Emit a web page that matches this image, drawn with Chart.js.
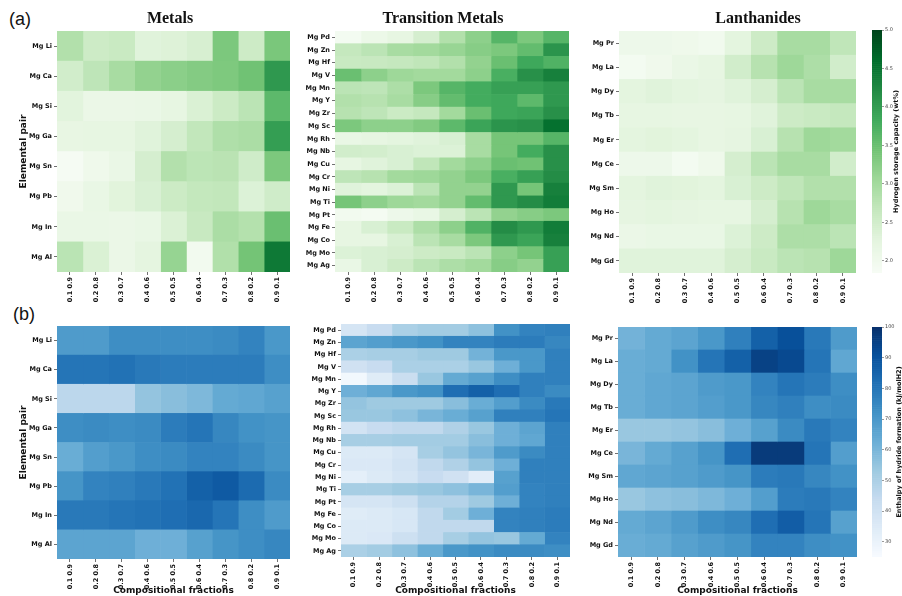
<!DOCTYPE html>
<html><head><meta charset="utf-8">
<script src="https://cdn.jsdelivr.net/npm/chart.js@4.4.0/dist/chart.umd.min.js"></script>
<style>
html,body{margin:0;padding:0;background:#fff;}
#wrap{position:relative;width:902px;height:596px;overflow:hidden;background:#fff;}
canvas{position:absolute;}
.lab{position:absolute;font-family:'Liberation Sans';font-size:18px;color:#111;line-height:1;}
</style></head><body>
<div id="wrap">
<div class="lab" style="left:9px;top:10px">(a)</div>
<div class="lab" style="left:13px;top:305px">(b)</div>
</div>
<script>
const fractions = ['0.1 0.9','0.2 0.8','0.3 0.7','0.4 0.6','0.5 0.5','0.6 0.4','0.7 0.3','0.8 0.2','0.9 0.1'];
const metalPairs = ['Mg Li','Mg Ca','Mg Si','Mg Ga','Mg Sn','Mg Pb','Mg In','Mg Al'];
const tmPairs = ['Mg Pd','Mg Zn','Mg Hf','Mg V','Mg Mn','Mg Y','Mg Zr','Mg Sc','Mg Rh','Mg Nb','Mg Cu','Mg Cr','Mg Ni','Mg Ti','Mg Pt','Mg Fe','Mg Co','Mg Mo','Mg Ag'];
const lanPairs = ['Mg Pr','Mg La','Mg Dy','Mg Tb','Mg Er','Mg Ce','Mg Sm','Mg Ho','Mg Nd','Mg Gd'];

// (a) Hydrogen storage capacity (wt%)
const h2Metals = [
[2.85,2.55,2.6,2.3,2.33,2.42,3.35,2.55,3.37],
[2.5,2.72,2.95,3.15,3.22,3.28,3.33,3.45,4.05],
[2.27,2.1,2.1,2.12,2.2,2.38,2.57,2.75,3.6],
[2.17,2.2,2.2,2.3,2.45,2.68,2.88,2.92,3.98],
[1.88,2.02,2.12,2.45,2.84,2.74,2.77,2.52,3.35],
[2.0,2.14,2.28,2.4,2.57,2.66,2.68,2.35,2.52],
[2.12,2.12,2.1,2.15,2.37,2.62,2.92,2.83,3.5],
[2.76,2.38,2.1,2.24,3.12,1.95,2.86,3.42,4.45]
];
const h2TM = [
[1.92,2.08,2.2,2.45,2.85,3.2,3.65,3.35,3.65],
[2.65,2.75,2.95,3.0,3.1,3.25,3.35,3.55,4.1],
[2.6,2.62,2.65,2.7,2.85,3.15,3.5,3.85,3.7],
[3.5,3.2,3.05,3.0,3.0,3.2,3.75,4.15,4.35],
[2.75,2.72,2.9,3.35,3.65,3.8,3.95,3.95,4.05],
[2.85,2.8,2.95,3.25,3.55,3.8,3.85,3.6,4.05],
[2.8,2.72,2.58,2.65,3.0,3.5,3.85,3.9,4.15],
[3.35,3.2,3.2,3.3,3.6,3.9,4.1,4.15,4.55],
[2.15,2.2,2.25,2.3,2.4,2.95,3.4,3.4,3.65],
[2.5,2.47,2.4,2.35,2.35,2.95,3.4,3.8,4.15],
[2.2,2.3,2.4,2.7,3.0,3.2,3.5,3.45,4.15],
[2.72,2.8,3.0,3.05,3.15,3.35,3.75,3.95,4.2],
[2.3,2.25,2.35,2.75,3.15,3.15,4.05,3.4,4.35],
[3.4,3.2,3.05,3.0,3.15,3.55,4.05,4.2,4.4],
[1.95,1.9,2.05,2.15,2.45,2.75,3.15,3.25,3.35],
[2.2,2.4,2.6,2.9,3.2,3.7,4.2,4.05,4.4],
[2.2,2.2,2.4,2.75,2.95,3.35,4.05,3.9,4.35],
[2.35,2.4,2.45,2.55,2.6,2.75,3.2,3.4,3.95],
[2.15,2.4,2.55,2.75,2.9,3.0,3.25,3.15,3.95]
];
const h2Lan = [
[2.05,2.05,2.02,1.98,2.25,2.55,2.95,2.95,2.7],
[1.92,2.0,2.12,2.2,2.5,2.8,3.05,2.9,2.5],
[2.25,2.3,2.25,2.22,2.3,2.45,2.75,2.95,2.95],
[2.2,2.2,2.18,2.18,2.2,2.3,2.55,2.6,2.65],
[2.25,2.28,2.25,2.18,2.22,2.4,2.8,3.05,3.0],
[2.05,2.05,1.92,2.02,2.45,2.75,2.95,2.95,2.5],
[2.25,2.3,2.28,2.25,2.4,2.55,2.7,2.85,2.85],
[2.22,2.25,2.22,2.2,2.2,2.45,2.8,3.05,2.95],
[2.1,2.15,2.15,2.15,2.35,2.55,2.9,2.9,2.75],
[2.3,2.3,2.3,2.3,2.45,2.6,2.75,2.8,3.05]
];

// (b) Enthalpy of hydride formation (kJ/molH2)
const dhMetals = [
[69,69,73,73,73,73,74,76,70],
[80,80,81,79,78,78,78,78,73],
[46,46,46,55,57,59,64,65,67],
[73,74,73,74,78,80,75,72,71],
[63,68,70,73,74,76,76,74,71],
[71,76,77,79,81,86,88,83,74],
[79,79,80,81,82,84,80,73,69],
[66,66,66,62,62,67,71,73,75]
];
const dhTM = [
[38,43,50,52,52,56,72,76,77],
[66,68,70,72,76,76,78,78,75],
[50,51,51,53,53,61,70,70,77],
[40,43,50,50,50,54,62,70,77],
[27,34,42,54,64,67,73,77,77],
[62,65,70,72,82,86,82,77,74],
[55,53,53,53,57,63,68,74,79],
[54,54,56,60,63,67,77,77,80],
[39,43,45,45,49,54,62,66,77],
[51,51,52,52,52,57,62,65,77],
[35,35,38,51,55,60,69,74,77],
[36,36,39,45,49,55,62,77,77],
[32,35,38,43,40,33,67,77,77],
[51,51,53,54,56,60,68,76,77],
[38,38,41,48,48,53,62,76,77],
[34,35,37,45,52,62,76,77,78],
[35,35,37,45,45,45,76,77,78],
[35,36,41,45,51,55,54,64,76],
[50,52,56,63,70,72,74,74,73]
];
const dhLan = [
[61,64,66,70,77,86,91,79,69],
[63,64,72,80,86,95,93,80,65],
[63,65,66,69,70,76,80,78,73],
[63,65,66,68,70,75,77,73,74],
[54,54,55,57,62,67,74,79,76],
[60,64,67,71,82,97,97,80,68],
[65,66,67,69,71,78,79,75,72],
[54,56,57,59,62,68,78,79,76],
[64,66,69,73,75,82,87,80,67],
[63,64,67,69,71,76,76,73,72]
];

const h2Range = [1.84, 5.0];
const dhRange = [25, 100];
const h2Ticks = [2.0, 2.5, 3.0, 3.5, 4.0, 4.5, 5.0];
const dhTicks = [30, 40, 50, 60, 70, 80, 90, 100];

const GREENS = ['#f7fcf5','#e5f5e0','#c7e9c0','#a1d99b','#74c476','#41ab5d','#238b45','#006d2c','#00441b'];
const BLUES = ['#f7fbff','#deebf7','#c6dbef','#9ecae1','#6baed6','#4292c6','#2171b5','#08519c','#08306b'];

function hex(h){return [parseInt(h.slice(1,3),16),parseInt(h.slice(3,5),16),parseInt(h.slice(5,7),16)];}
function cmap(stops, t){
  t = Math.max(0, Math.min(1, t));
  const p = t*(stops.length-1), i = Math.min(stops.length-2, Math.floor(p)), f = p - i;
  const a = hex(stops[i]), b = hex(stops[i+1]);
  return 'rgb('+a.map((v,k)=>Math.round(v+(b[k]-v)*f)).join(',')+')';
}

Chart.defaults.font.family = 'DejaVu Sans';
const wrap = document.getElementById('wrap');
function mkCanvas(x,y,w,h){
  const c = document.createElement('canvas');
  c.width=w; c.height=h; c.style.left=x+'px'; c.style.top=y+'px'; c.style.width=w+'px'; c.style.height=h+'px';
  wrap.appendChild(c); return c;
}

// panel title drawn at a fixed position (canvas coordinates)
const panelTitle = {
  id:'panelTitle',
  afterDraw(chart, args, opts){
    if(!opts || !opts.text) return;
    const ctx = chart.ctx;
    ctx.save();
    ctx.font = 'bold 16px "Liberation Serif"';
    ctx.fillStyle = '#111';
    ctx.textAlign='center'; ctx.textBaseline='alphabetic';
    ctx.fillText(opts.text, opts.x, opts.y);
    ctx.restore();
  }
};

function heatmap(cfg){
  const c = mkCanvas(cfg.x, cfg.y, cfg.w, cfg.h);
  const [vmin, vmax] = cfg.range;
  const datasets = fractions.map((f,j)=>({
    label: f,
    data: cfg.rows.map(()=>[j, j+1]),
    backgroundColor: cfg.rows.map((r,i)=>cmap(cfg.stops,(cfg.values[i][j]-vmin)/(vmax-vmin))),
    borderWidth:0, barPercentage:1, categoryPercentage:1, grouped:false
  }));
  new Chart(c,{type:'bar', data:{labels:cfg.rows, datasets}, plugins:[panelTitle],
    options:{indexAxis:'y', responsive:false, animation:false, events:[],
      layout:{padding:{top:cfg.padTop, right:cfg.padRight, left:0, bottom:0}},
      plugins:{legend:{display:false}, tooltip:{enabled:false}, title:{display:false},
        panelTitle: cfg.title ? {text:cfg.title, x:cfg.titleX - cfg.x, y:23} : {text:''}},
      scales:{
        y:{type:'category', offset:true,
          grid:{offset:false, drawOnChartArea:false, drawTicks:true, tickLength:3, color:'#333', lineWidth:0.7},
          border:{display:false},
          ticks:{font:{size:6.5, weight:'bold'}, color:'#111', padding:2, autoSkip:false},
          title:{display:!!cfg.ytitle, text:cfg.ytitle||'', color:'#111', font:{size:9, weight:'bold', lineHeight:1.2}, padding:{top:18, bottom:0}},
          afterFit:s=>{s.width=cfg.yw;}},
        x:{type:'linear', min:0, max:fractions.length,
          afterBuildTicks:s=>{s.ticks=fractions.map((f,j)=>({value:j+0.5}));},
          grid:{drawOnChartArea:false, drawTicks:true, tickLength:3, color:'#333', lineWidth:0.7},
          border:{display:false},
          ticks:{callback:(v,i)=>fractions[i], minRotation:90, maxRotation:90, autoSkip:false,
            font:{size:6.5, weight:'bold'}, color:'#111', padding:2},
          title:{display:!!cfg.xtitle, text:cfg.xtitle||'', color:'#111', font:{size:9, weight:'bold', lineHeight:1.2}, padding:{top:0, bottom:0}},
          afterFit:s=>{s.height=cfg.xh;}}
      }
    }
  });
}

const cbLabel = {
  id:'cbLabel',
  afterDraw(chart, args, opts){
    const ctx = chart.ctx, a = chart.chartArea;
    ctx.save();
    ctx.translate(opts.x, (a.top+a.bottom)/2);
    ctx.rotate(-Math.PI/2);
    ctx.font = 'bold 6.5px "DejaVu Sans"';
    ctx.fillStyle = '#111';
    ctx.textAlign='center'; ctx.textBaseline='middle';
    ctx.fillText(opts.text, 0, 0);
    ctx.restore();
  }
};

function colorbar(cfg){
  const c = mkCanvas(cfg.x, cfg.y, cfg.w, cfg.h);
  const [vmin, vmax] = cfg.range;
  const N = 120, step = (vmax-vmin)/N;
  const datasets = [];
  for(let k=0;k<N;k++){
    const lo = vmin+k*step, hi = lo+step;
    datasets.push({data:[[lo,hi]], backgroundColor:cmap(cfg.stops,(k+0.5)/N), borderWidth:0, barPercentage:1, categoryPercentage:1, grouped:false});
  }
  new Chart(c,{type:'bar', data:{labels:[''], datasets}, plugins:[cbLabel],
    options:{responsive:false, animation:false, events:[],
      layout:{padding:{top:cfg.padTop, bottom:cfg.padBottom, left:cfg.padLeft, right:0}},
      plugins:{legend:{display:false}, tooltip:{enabled:false}, cbLabel:{text:cfg.label, x:cfg.labelX}},
      scales:{
        x:{display:false},
        y:{position:'right', min:vmin, max:vmax,
          afterBuildTicks:s=>{s.ticks=cfg.ticks.map(v=>({value:v}));},
          grid:{drawOnChartArea:false, drawTicks:true, tickLength:2, color:'#555', lineWidth:0.6},
          border:{display:false},
          ticks:{font:{size:5}, color:'#444', padding:1, callback:v=>cfg.fmt(v)},
          afterFit:s=>{s.width=cfg.yw;}}
      }
    }
  });
}

// (a) row
heatmap({x:0,y:0,w:292,h:305, padTop:31, padRight:2, yw:57, xh:33, rows:metalPairs, values:h2Metals, stops:GREENS, range:h2Range, title:'Metals', titleX:170, ytitle:'Elemental pair'});
heatmap({x:292,y:0,w:280,h:305, padTop:31, padRight:3, yw:43, xh:33, rows:tmPairs, values:h2TM, stops:GREENS, range:h2Range, title:'Transition Metals', titleX:443});
heatmap({x:572,y:0,w:290,h:305, padTop:31, padRight:6, yw:47, xh:32, rows:lanPairs, values:h2Lan, stops:GREENS, range:h2Range, title:'Lanthanides', titleX:758});
colorbar({x:860,y:0,w:42,h:305, padTop:30, padBottom:32, padLeft:12, yw:20, range:h2Range, stops:GREENS, ticks:h2Ticks, fmt:v=>v.toFixed(1), label:'Hydrogen storage capacity (wt%)', labelX:36});

// (b) row
heatmap({x:0,y:300,w:292,h:296, padTop:26, padRight:2, yw:57, xh:37, rows:metalPairs, values:dhMetals, stops:BLUES, range:dhRange, ytitle:'Elemental pair', xtitle:'Compositional fractions'});
heatmap({x:292,y:300,w:280,h:296, padTop:24, padRight:2, yw:49, xh:39, rows:tmPairs, values:dhTM, stops:BLUES, range:dhRange, xtitle:'Compositional fractions'});
heatmap({x:572,y:300,w:290,h:296, padTop:27, padRight:5, yw:46, xh:39, rows:lanPairs, values:dhLan, stops:BLUES, range:dhRange, xtitle:'Compositional fractions'});
colorbar({x:860,y:300,w:42,h:296, padTop:27, padBottom:39, padLeft:12, yw:20, range:dhRange, stops:BLUES, ticks:dhTicks, fmt:v=>String(v), label:'Enthalpy of hydride formation (kJ/molH2)', labelX:39});
</script>
</body></html>
